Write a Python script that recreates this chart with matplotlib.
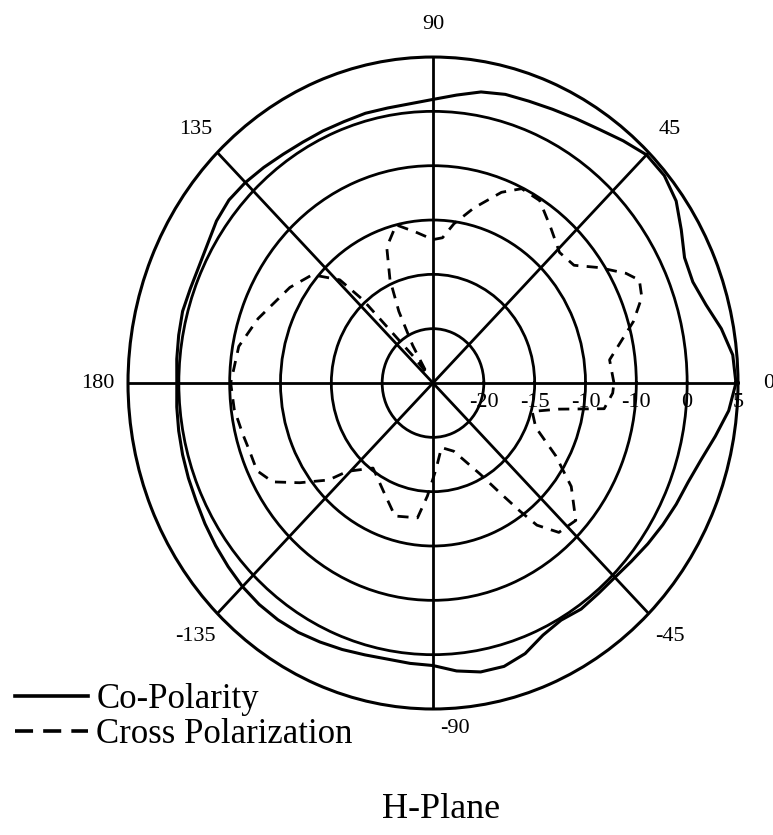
import numpy as np
import matplotlib.pyplot as plt
from matplotlib.lines import Line2D

plt.rcParams['font.family'] = ['Liberation Serif', 'DejaVu Serif']

# H-plane pattern, dB vs angle (deg)
co_angle = [0, 5, 10, 15, 20, 25, 30, 35, 40, 45, 50, 55, 60, 65, 70, 75, 80, 85,
            90, 95, 100, 105, 110, 115, 120, 125, 130, 135, 140, 145, 150, 155, 160,
            165, 170, 175, 180, -175, -170, -165, -160, -155, -150, -145, -140, -135,
            -130, -125, -120, -115, -110, -105, -100, -95, -90, -85, -80, -75, -70,
            -65, -60, -55, -50, -45, -40, -35, -30, -25, -20, -15, -10, -5]
co_db = [4.8, 4.6, 3.8, 2.8, 2.2, 2.3, 3.2, 4.2, 4.7, 4.7, 4.1, 3.5, 3.1, 2.8, 2.6,
         2.5, 2.2, 1.6, 1.1, 0.8, 0.7, 0.7, 0.6, 0.6, 0.6, 0.7, 0.9, 1.1, 1.2, 1.0,
         0.6, 0.4, 0.4, 0.5, 0.4, 0.3, 0.2, 0.3, 0.4, 0.5, 0.6, 0.7, 0.9, 1.1, 1.3,
         1.5, 1.6, 1.6, 1.5, 1.3, 1.1, 0.9, 0.8, 0.9, 1.0, 1.6, 2.0, 2.0, 1.5, 0.6,
         0.2, 0.4, 0.3, 0.3, 0.5, 0.8, 1.1, 1.4, 1.7, 2.3, 3.2, 4.2]

cx_angle = [0, 7, 16, 21, 25, 28, 33, 38, 44, 51, 58, 64, 69, 76, 82, 86, 90, 97,
            104, 110, 114, 117, 120, 124, 128, 130, 132, 134, 140, 148, 161, 170, 180,
            -173, -166, -161, -155, -150, -145, -139, -136, -127, -116, -107, -97, -93,
            -88, -82, -72, -61, -57, -54, -52, -48, -42, -35, -29, -22, -15, -11, -8, -3]
cx_db = [-7.2, -7.5, -4.5, -3.0, -2.6, -3.5, -5.5, -7.4, -7.7, -6.6, -5.2, -5.1, -6.2,
         -8.4, -10.2, -11.6, -11.8, -11.0, -10.0, -11.7, -14.6, -17.6, -21.0, -24.0,
         -22.0, -20.3, -14.7, -11.8, -9.5, -8.4, -6.8, -5.6, -5.1, -5.3, -5.7, -5.9,
         -5.9, -6.8, -9.0, -11.4, -13.3, -15.2, -13.9, -12.2, -12.5, -14.6, -17.0,
         -19.0, -18.4, -15.4, -13.0, -10.4, -8.4, -6.5, -6.1, -8.4, -11.2, -14.1,
         -14.9, -12.4, -8.0, -7.3]

ring_values = [-20, -15, -10, -5, 0, 5]
ring_labels = ['-20', '-15', '-10', '-10', '0', '5']
angle_ticks = [0, 45, 90, 135, 180, -135, -90, -45]
angle_labels = ['0', '45', '90', '135', '180', '-135', '-90', '-45']

fig = plt.figure(figsize=(7.73, 8.35), dpi=100)
ax = fig.add_axes([0.1656, 0.1509, 0.7891, 0.7808], projection='polar')
ax.set_aspect('auto')  # the scan is slightly taller than wide

ax.set_ylim(-25, 5)
ax.set_yticks(ring_values[:-1])
ax.set_xticks(np.deg2rad(np.arange(0, 360, 45)))
ax.set_xticklabels([])
ax.set_yticklabels([])
ax.grid(True, color='black', lw=2.0)
ax.spines['polar'].set_linewidth(2.2)
ax.tick_params(length=0)

th = np.deg2rad(co_angle + co_angle[:1])
ax.plot(th, co_db + co_db[:1], color='black', lw=2.2)
th = np.deg2rad(cx_angle + cx_angle[:1])
ax.plot(th, cx_db + cx_db[:1], color='black', lw=2.0, ls=(0, (4, 3)))

# ring values under the 0-degree axis
for v, s in zip(ring_values, ring_labels):
    ax.annotate(s, xy=(0, v), xytext=(0, -7), textcoords='offset points',
                ha='center', va='top', fontsize=16, annotation_clip=False)

# angle labels around the rim
for a, s in zip(angle_ticks, angle_labels):
    if a == -90:
        ax.annotate(s, xy=(np.deg2rad(a), 5), xytext=(16, -14),
                    textcoords='offset points', ha='center', va='center',
                    fontsize=16, annotation_clip=False)
        continue
    ax.text(np.deg2rad(a), 8.0, s, ha='center', va='center', fontsize=16,
            clip_on=False)

handles = [Line2D([], [], color='black', lw=2.6),
           Line2D([], [], color='black', lw=2.6, ls=(0, (5, 2.8)))]
fig.legend(handles, ['Co-Polarity', 'Cross Polarization'], loc='upper left',
           bbox_to_anchor=(0.019, 0.182), frameon=False, fontsize=25,
           handlelength=2.1, handletextpad=0.25, labelspacing=0.05,
           borderpad=0, borderaxespad=0)

fig.text(0.57, 0.031, 'H-Plane', ha='center', va='center', fontsize=26)

fig.savefig('out.png', dpi=100)
